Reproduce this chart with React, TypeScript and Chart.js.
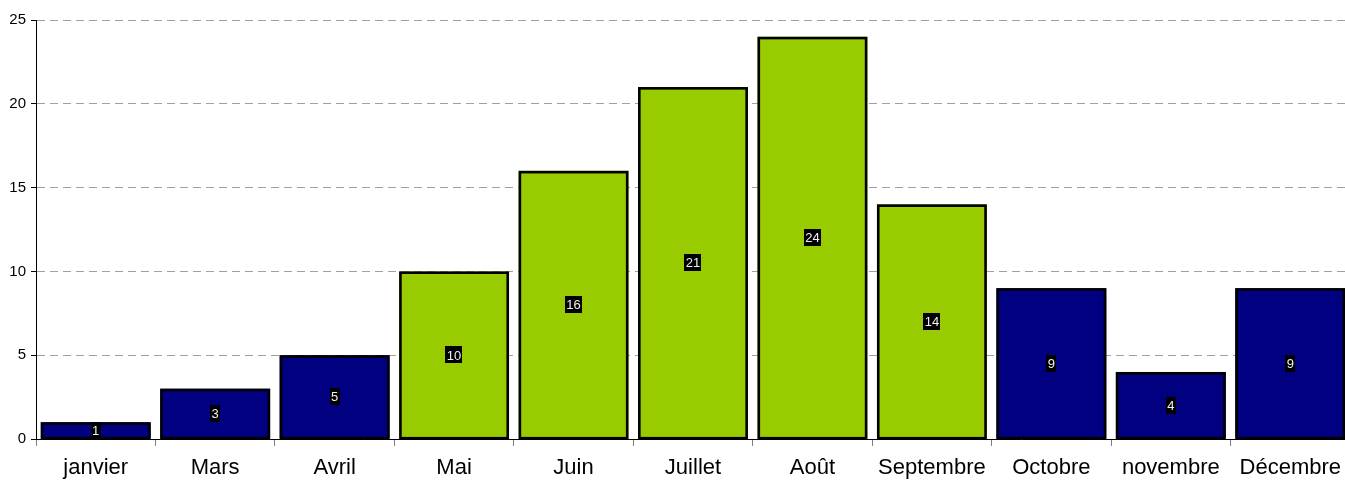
import React, { useEffect, useRef } from "react";
import { Chart, registerables } from "chart.js";

Chart.register(...registerables);

const categories = ["janvier", "Mars", "Avril", "Mai", "Juin", "Juillet", "Août", "Septembre", "Octobre", "novembre", "Décembre"];
const values = [1, 3, 5, 10, 16, 21, 24, 14, 9, 4, 9];
const summerMonths = ["Mai", "Juin", "Juillet", "Août", "Septembre"];
const yTicks = [0, 5, 10, 15, 20, 25];

const NAVY = "#000080";
const GREEN = "#99CC00";
const FONT = "Arial, 'Liberation Sans', sans-serif";
const BORDER_W = 2.6;

const labelPlugin = {
  id: "centerLabels",
  afterDatasetsDraw(chart: any) {
    const ctx = chart.ctx;
    const meta = chart.getDatasetMeta(0);
    ctx.save();
    // bar outlines
    ctx.strokeStyle = "#000000";
    ctx.lineWidth = BORDER_W;
    ctx.lineJoin = "miter";
    meta.data.forEach((bar: any) => {
      const { x, y, base, width } = bar.getProps(["x", "y", "base", "width"], true);
      const half = BORDER_W / 2;
      const left = x - width / 2 + half;
      const right = x + width / 2 - half;
      const top = Math.min(y, base) + half;
      const bottom = Math.max(y, base) - half + 1;
      ctx.strokeRect(left, top, right - left, bottom - top);
    });
    // value labels
    ctx.font = `13px ${FONT}`;
    ctx.textAlign = "center";
    ctx.textBaseline = "middle";
    meta.data.forEach((bar: any, i: number) => {
      const txt = String(values[i]);
      const w = ctx.measureText(txt).width + 3;
      const h = 17;
      const cx = bar.x;
      const cy = (bar.y + bar.base) / 2;
      ctx.fillStyle = "#000000";
      ctx.fillRect(Math.round(cx - w / 2), Math.round(cy - h / 2), Math.round(w), h);
      ctx.fillStyle = "#f0f0f0";
      ctx.fillText(txt, cx, cy + 1);
    });
    ctx.restore();
  },
};

export default function App() {
  const ref = useRef<HTMLCanvasElement | null>(null);

  useEffect(() => {
    document.body.style.margin = "0";
    document.body.style.overflow = "hidden";
    const canvas = ref.current;
    if (!canvas) return;
    const chart = new Chart(canvas, {
      type: "bar",
      data: {
        labels: categories,
        datasets: [
          {
            data: values,
            backgroundColor: categories.map((c) => (summerMonths.includes(c) ? GREEN : NAVY)),
            borderWidth: 0,
            barPercentage: 0.92,
            categoryPercentage: 1,
          },
        ],
      },
      options: {
        responsive: false,
        animation: false,
        layout: { padding: { top: 20, right: 0, left: 0, bottom: 0 } },
        plugins: {
          legend: { display: false },
          tooltip: { enabled: false },
        },
        scales: {
          x: {
            offset: true,
            grid: {
              display: true,
              drawOnChartArea: false,
              drawTicks: true,
              tickLength: 7,
              tickColor: "#808080",
              offset: true,
            },
            border: { display: true, color: "#000000", width: 1 },
            ticks: {
              color: "#000000",
              font: { family: FONT, size: 22 },
              padding: 9,
              maxRotation: 0,
              autoSkip: false,
            },
            afterFit(scale: any) {
              scale.height = 45;
            },
          },
          y: {
            min: 0,
            max: 25,
            afterBuildTicks(scale: any) {
              scale.ticks = yTicks.map((v) => ({ value: v }));
            },
            grid: {
              color: "#a0a0a0",
              drawTicks: true,
              tickLength: 5,
              tickColor: "#000000",
            },
            border: { display: true, color: "#000000", width: 1, dash: [8, 5] },
            ticks: {
              color: "#000000",
              font: { family: FONT, size: 15 },
              padding: 5,
            },
            afterFit(scale: any) {
              scale.width = 36;
            },
          },
        },
      },
      plugins: [labelPlugin],
    });
    return () => chart.destroy();
  }, []);

  return (
    <div style={{ position: "absolute", left: 0, top: 0, width: 1345, height: 484, overflow: "hidden", background: "#ffffff" }}>
      <canvas ref={ref} width={1350} height={484} />
    </div>
  );
}
